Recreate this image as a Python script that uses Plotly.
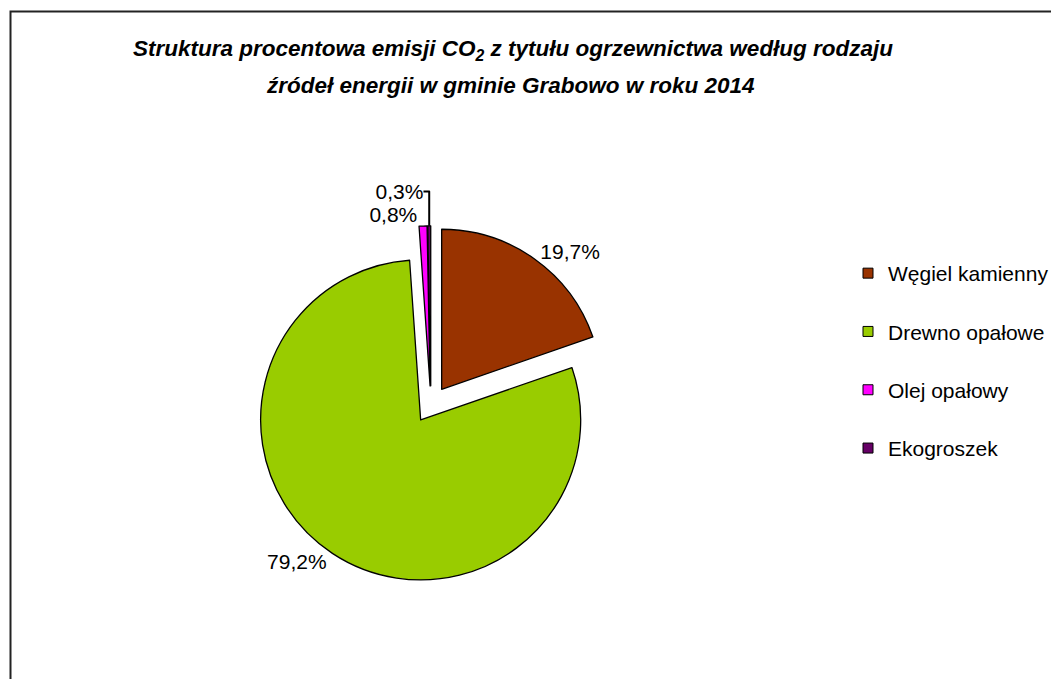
import plotly.graph_objects as go

labels = ["Węgiel kamienny", "Drewno opałowe", "Olej opałowy", "Ekogroszek"]
values = [19.7, 79.2, 0.8, 0.3]
colors = ["#993300", "#99CC00", "#FF00FF", "#660066"]
title_line1 = "Struktura procentowa emisji CO<sub>2</sub> z tytułu ogrzewnictwa według rodzaju"
title_line2 = "źródeł energii w gminie Grabowo w roku 2014"

W, H = 1059, 679
FONT = "Liberation Sans, Arial, sans-serif"

fig = go.Figure()
fig.add_trace(go.Pie(
    labels=labels, values=values, sort=False, direction="clockwise", rotation=0,
    marker=dict(colors=colors, line=dict(color="black", width=1.3)),
    pull=[0.116] * len(values),
    textposition="outside", texttemplate="%{value:.1f}%",
    textfont=dict(family=FONT, size=21, color="black"),
    domain=dict(x=[244.3 / W, 601.5 / W], y=[104.0 / H, 461.2 / H]),
    showlegend=False, hoverinfo="label+percent",
))

for i, (lab, col) in enumerate(zip(labels, colors)):
    fig.add_trace(go.Scatter(
        x=[None], y=[None], mode="markers", name=lab, legendgroup=f"g{i}",
        marker=dict(symbol="square", size=10, color=col, line=dict(color="black", width=1)),
        showlegend=True, hoverinfo="skip",
    ))

fig.update_layout(
    width=W, height=H, margin=dict(l=0, r=0, t=0, b=0),
    paper_bgcolor="white", plot_bgcolor="white",
    separators=", ",
    font=dict(family=FONT, size=21, color="black"),
    xaxis=dict(visible=False), yaxis=dict(visible=False),
    legend=dict(x=840 / W, y=1 - 245 / H, xanchor="left", yanchor="top",
                tracegroupgap=28, font=dict(family=FONT, size=21, color="black"),
                bgcolor="rgba(0,0,0,0)"),
    shapes=[dict(type="rect", xref="paper", yref="paper",
                 x0=2.5 / W, x1=1.02, y0=-0.02, y1=1 - 3.5 / H,
                 line=dict(color="#222", width=2), fillcolor="rgba(0,0,0,0)")],
    annotations=[
        dict(text="<b><i>" + title_line1 + "</i></b>", x=505 / W, y=1 - 42 / H,
             xref="paper", yref="paper", showarrow=False, xanchor="center", yanchor="middle",
             font=dict(family=FONT, size=22.5, color="black")),
        dict(text="<b><i>" + title_line2 + "</i></b>", x=502 / W, y=1 - 77 / H,
             xref="paper", yref="paper", showarrow=False, xanchor="center", yanchor="middle",
             font=dict(family=FONT, size=22.5, color="black")),
    ],
)

fig.write_html("out.html")
